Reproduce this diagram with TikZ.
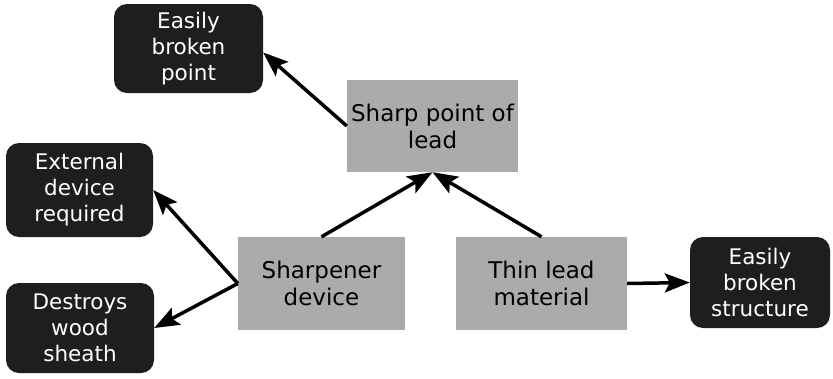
\documentclass[tikz,border=0pt]{standalone}
\usepackage{fontspec}
\setmainfont{DejaVu Sans}
\usetikzlibrary{arrows.meta}
\definecolor{boxgray}{HTML}{ABABAB}
\definecolor{boxdark}{HTML}{1E1E1E}
\tikzset{
  cause/.style={fill=boxgray, text=black, align=center, inner sep=0pt,
    font=\fontsize{23}{27}\selectfont},
  effect/.style={fill=boxdark, text=white, rounded corners=13pt, align=center,
    inner sep=0pt, font=\fontsize{21.5}{26}\selectfont},
  link/.style={line width=3.5pt, -{Stealth[length=25pt,width=19pt,inset=5pt]}}
}
\begin{document}
\begin{tikzpicture}[x=1pt,y=-1pt]
\useasboundingbox[fill=white] (0,0) rectangle (833,378);

% problem boxes (gray)
\node[cause, minimum width=171pt, minimum height=92pt] (spl) at (432.5,126) {Sharp point of\\lead};
\node[cause, minimum width=167pt, minimum height=93pt] (sd) at (321.5,283.5) {Sharpener\\device};
\node[cause, minimum width=171pt, minimum height=93pt] (tlm) at (541.5,283.5) {Thin lead\\material};

% consequence boxes (dark)
\node[effect, minimum width=149pt, minimum height=89pt] (ebp) at (188.5,48.5) {Easily\\broken\\point};
\node[effect, minimum width=147pt, minimum height=94pt] (edr) at (79.5,190) {External\\device\\required};
\node[effect, minimum width=148pt, minimum height=90pt] (dws) at (80,328) {Destroys\\wood\\sheath};
\node[effect, minimum width=140pt, minimum height=91pt] (ebs) at (760,282.5) {Easily\\broken\\structure};

% connectors
\draw[link] (spl.west) -- ([yshift=-4pt]ebp.east);
\draw[link] (sd.north) -- (spl.south);
\draw[link] (tlm.north) -- (spl.south);
\draw[link] (sd.west) -- (edr.east);
\draw[link] (sd.west) -- (dws.east);
\draw[link] (tlm.east) -- (ebs.west);
\end{tikzpicture}
\end{document}
